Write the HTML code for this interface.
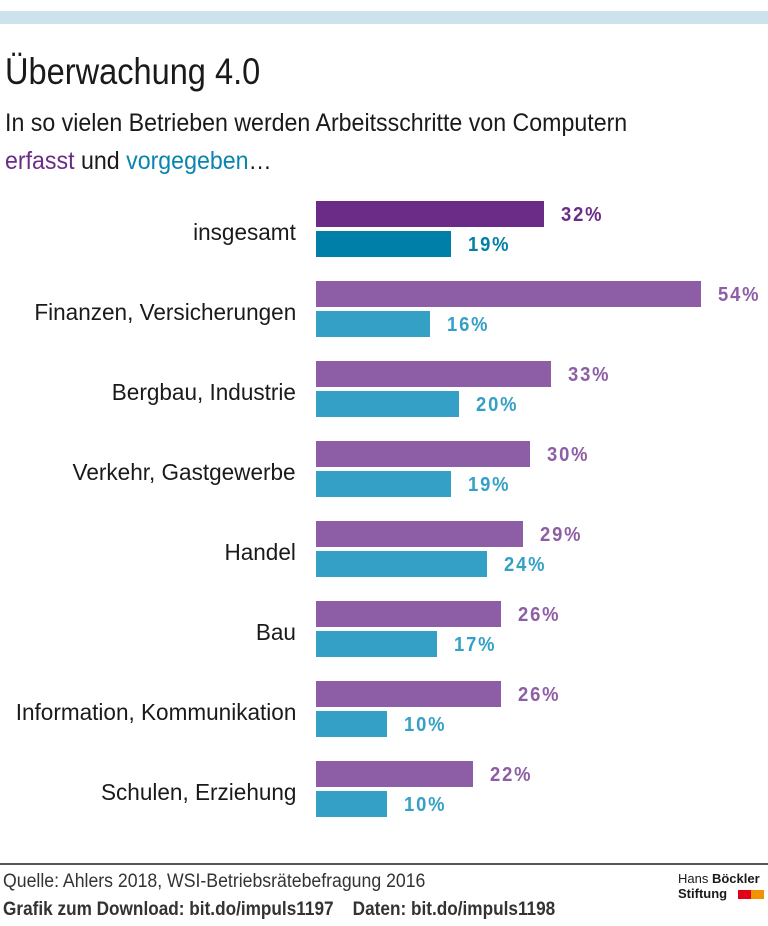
<!DOCTYPE html>
<html><head><meta charset="utf-8"><style>
body{margin:0;width:768px;height:926px;background:#fff;position:relative;overflow:hidden;font-family:"Liberation Sans",sans-serif;color:#1a1a1a}
.a{position:absolute;white-space:nowrap;transform-origin:0 0}
.lab{position:absolute;right:472px;font-size:23px;line-height:26px;white-space:nowrap;transform:scaleX(0.98);transform-origin:100% 0}
.bar{position:absolute;left:316px;height:26px}
.v{position:absolute;font-size:20px;font-weight:bold;line-height:26px;letter-spacing:2px;transform:scaleX(0.92);transform-origin:0 0}
</style></head><body>
<div class="a" style="left:0;top:11px;width:768px;height:13px;background:#cde3ec"></div>
<div class="a" style="left:5px;top:50px;font-size:37px;line-height:44px;transform:scaleX(0.88)">Überwachung 4.0</div>
<div class="a" style="left:5px;top:108px;font-size:25px;line-height:30px;transform:scaleX(0.927)">In so vielen Betrieben werden Arbeitsschritte von Computern</div>
<div class="a" style="left:5px;top:146px;font-size:25px;line-height:30px;transform:scaleX(0.927)"><span style="color:#6a2c87">erfasst</span> und <span style="color:#0a85b0">vorgegeben</span>…</div>
<div id="c"></div>
<div class="a" style="left:0;top:863px;width:768px;height:2px;background:#555"></div>
<div class="a" style="left:3px;top:870px;font-size:19px;line-height:24px;color:#333;transform:scaleX(0.93)">Quelle: Ahlers 2018, WSI-Betriebsrätebefragung 2016</div>
<div class="a" style="left:3px;top:898px;font-size:19px;line-height:24px;font-weight:bold;color:#333;transform:scaleX(0.905)">Grafik zum Download: bit.do/impuls1197 &nbsp;&nbsp; Daten: bit.do/impuls1198</div>
<div class="a" style="left:678px;top:871px;font-size:13px;line-height:15px">Hans <b>Böckler</b><br><b>Stiftung</b></div>
<div class="a" style="left:738px;top:890px;width:13px;height:9px;background:#e2001a"></div>
<div class="a" style="left:751px;top:890px;width:13px;height:9px;background:#f39200"></div>
<script>
var d=[["insgesamt",32,19],["Finanzen, Versicherungen",54,16],["Bergbau, Industrie",33,20],["Verkehr, Gastgewerbe",30,19],["Handel",29,24],["Bau",26,17],["Information, Kommunikation",26,10],["Schulen, Erziehung",22,10]];
var h="";
d.forEach(function(r,i){var y=201+i*80;
var c1=i?"#8d5ea5":"#6a2c87",c2=i?"#35a0c6":"#0080a8";
var w1=r[1]*7.125,w2=r[2]*7.125;
h+='<div class="lab" style="top:'+(y+18)+'px">'+r[0]+'</div>';
h+='<div class="bar" style="top:'+y+'px;width:'+w1+'px;background:'+c1+'"></div>';
h+='<div class="bar" style="top:'+(y+30)+'px;width:'+w2+'px;background:'+c2+'"></div>';
h+='<div class="v" style="left:'+(316+w1+17)+'px;top:'+(y+1)+'px;color:'+c1+'">'+r[1]+'%</div>';
h+='<div class="v" style="left:'+(316+w2+17)+'px;top:'+(y+31)+'px;color:'+c2+'">'+r[2]+'%</div>';});
document.getElementById("c").innerHTML=h;
</script>
</body></html>
